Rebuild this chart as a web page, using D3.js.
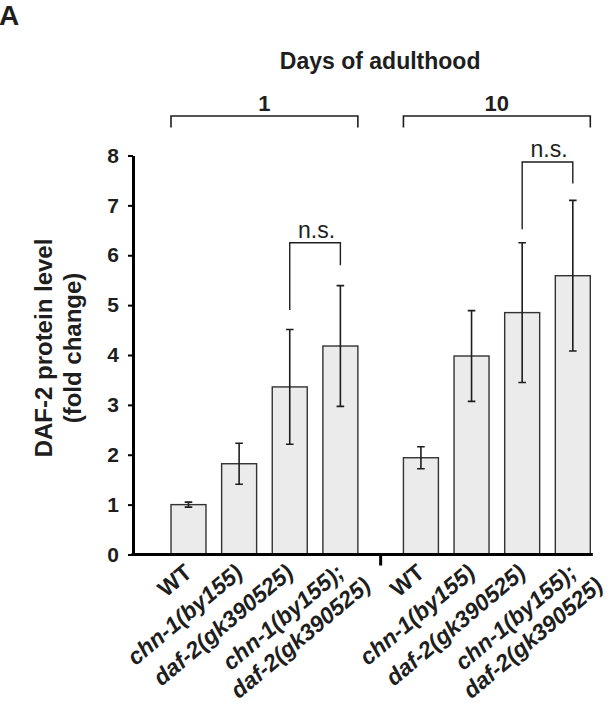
<!DOCTYPE html>
<html>
<head>
<meta charset="utf-8">
<script src="https://cdn.jsdelivr.net/npm/d3@7"></script>
<style>
  html, body { margin: 0; padding: 0; background: #fff; }
  svg { display: block; font-family: "Liberation Sans", Arial, Helvetica, sans-serif; }
</style>
</head>
<body>
<svg id="chart" width="615" height="703"></svg>
<script>
// ---- data ----
const days = ["1", "10"];
const genotypes = ["WT", "chn-1(by155)", "daf-2(gk390525)", "chn-1(by155);|daf-2(gk390525)"];
const day1Means = [1.00, 1.82, 3.36, 4.18];
const day1Errors = [0.05, 0.41, 1.15, 1.21];
const day10Means = [1.94, 3.98, 4.85, 5.59];
const day10Errors = [0.22, 0.91, 1.40, 1.51];
const yTicks = [0, 1, 2, 3, 4, 5, 6, 7, 8];
// significance brackets (between genotype 3 and 4 in each day group)
const sigLabels = ["n.s.", "n.s."];
const sigTop = [6.25, 7.87];
const sigLeftEnd = [4.90, 6.52];
const sigRightEnd = [5.80, 7.44];

const means = [day1Means, day10Means];
const errors = [day1Errors, day10Errors];

// ---- layout ----
const svg = d3.select("#chart");
const ink = "#1e1e1e";
const axisX = 133;
const y = d3.scaleLinear().domain([0, 8]).range([554.5, 155.5]);
const xOuter = d3.scaleBand().domain(days).range([171, 590.3]).paddingInner(0.196);
const xInner = d3.scaleBand().domain(d3.range(genotypes.length)).range([0, xOuter.bandwidth()]).paddingInner(0.309);

const rows = [];
days.forEach((d, gi) => genotypes.forEach((g, i) => rows.push({
  day: d, gi, i, g, mean: means[gi][i], err: errors[gi][i]
})));

const cx = r => xOuter(r.day) + xInner(r.i) + xInner.bandwidth() / 2;

// panel letter
svg.append("text").attr("x", -1).attr("y", 25).attr("font-size", 28).attr("font-weight", "bold")
  .attr("fill", ink).text("A");

// title
svg.append("text").attr("x", (xOuter.range()[0] + xOuter.range()[1]) / 2 - 0.5).attr("y", 69)
  .attr("text-anchor", "middle").attr("font-size", 23).attr("font-weight", "bold").attr("fill", ink)
  .text("Days of adulthood");

// group brackets
days.forEach(d => {
  const x0 = xOuter(d), x1 = xOuter(d) + xOuter.bandwidth();
  svg.append("path").attr("d", `M${x0},127.5V116H${x1}V127.5`).attr("fill", "none")
    .attr("stroke", ink).attr("stroke-width", 1.6);
  svg.append("text").attr("x", (x0 + x1) / 2).attr("y", 110.7).attr("text-anchor", "middle")
    .attr("font-size", 22).attr("font-weight", "bold").attr("fill", ink).text(d);
});

// bars
svg.append("g").selectAll("rect").data(rows).join("rect")
  .attr("x", r => xOuter(r.day) + xInner(r.i))
  .attr("y", r => y(r.mean))
  .attr("width", xInner.bandwidth())
  .attr("height", r => y(0) - y(r.mean))
  .attr("fill", "#ebebeb").attr("stroke", "#333").attr("stroke-width", 1.4);

// error bars
const eg = svg.append("g").attr("stroke", ink).attr("stroke-width", 1.6).attr("fill", "none");
rows.forEach(r => {
  const c = cx(r), t = y(r.mean + r.err), b = y(r.mean - r.err);
  eg.append("path").attr("d", `M${c},${t}V${b}M${c - 3.8},${t}H${c + 3.8}M${c - 3.8},${b}H${c + 3.8}`);
});

// significance brackets
days.forEach((d, gi) => {
  const a = cx({day: d, i: 2}), b = cx({day: d, i: 3});
  svg.append("path")
    .attr("d", `M${a},${y(sigLeftEnd[gi])}V${y(sigTop[gi])}H${b}V${y(sigRightEnd[gi])}`)
    .attr("fill", "none").attr("stroke", ink).attr("stroke-width", 1.4);
  svg.append("text").attr("x", (a + b) / 2 + 1.5).attr("y", y(sigTop[gi]) - 4.5)
    .attr("text-anchor", "middle").attr("font-size", 23).attr("fill", ink).text(sigLabels[gi]);
});

// y axis
const yAxis = svg.append("g").attr("transform", `translate(${axisX},0)`)
  .call(d3.axisLeft(y).tickValues(yTicks).tickFormat(d3.format("d")).tickSize(5).tickSizeOuter(0).tickPadding(9));
yAxis.select(".domain").attr("stroke", "#000").attr("stroke-width", 3);
yAxis.selectAll(".tick line").attr("stroke", "#000").attr("stroke-width", 2);
yAxis.selectAll(".tick text").attr("font-size", 21).attr("font-weight", "bold").attr("fill", ink)
  .attr("font-family", "Liberation Sans, Arial, sans-serif");

// x axis line
const xEnd = xOuter.range()[1] + 2.5;
svg.append("line").attr("x1", axisX - 1.5).attr("x2", xEnd).attr("y1", y(0)).attr("y2", y(0))
  .attr("stroke", "#000").attr("stroke-width", 3);
// separator tick between day groups
const sepX = (xOuter(days[0]) + xOuter.bandwidth() + xOuter(days[1])) / 2;
svg.append("line").attr("x1", sepX).attr("x2", sepX).attr("y1", y(0)).attr("y2", y(0) + 11)
  .attr("stroke", "#000").attr("stroke-width", 3);

// y label
const yl = svg.append("text").attr("transform", "translate(51.7,348) rotate(-90)")
  .attr("text-anchor", "middle").attr("font-size", 24).attr("font-weight", "bold").attr("fill", ink);
yl.append("tspan").attr("x", 0).attr("y", 0).text("DAF-2 protein level");
yl.append("tspan").attr("x", 0).attr("y", 29).text("(fold change)");

// x category labels
rows.forEach(r => {
  const g = svg.append("g").attr("transform", `translate(${cx(r) + 5},575) rotate(-40)`);
  const lines = r.g.split("|");
  const italic = r.g !== "WT";
  const texts = lines.map((ln, li) => g.append("text")
    .attr("x", 0).attr("y", li * 27)
    .attr("text-anchor", "end").attr("font-size", 23).attr("font-weight", "bold")
    .attr("font-style", italic ? "italic" : "normal").attr("fill", ink).text(ln));
  if (texts.length > 1) {
    const w0 = texts[0].node().getComputedTextLength();
    texts.slice(1).forEach(t => {
      const w = t.node().getComputedTextLength();
      t.attr("x", (w - w0) / 2);
    });
  }
});
</script>
</body>
</html>
